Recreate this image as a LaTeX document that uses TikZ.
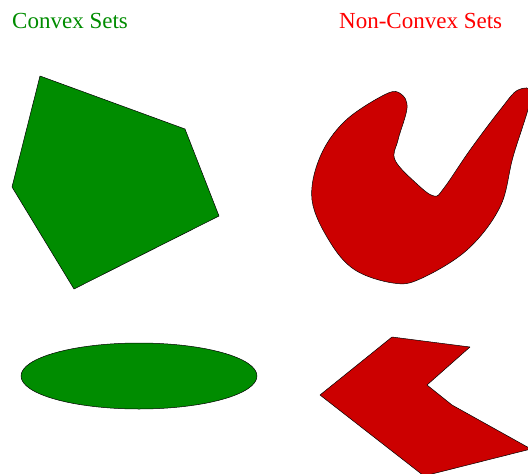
\documentclass[tikz,border=0pt]{standalone}
\usepackage{fontspec}
\setmainfont{Liberation Serif}
\usepackage{xcolor}
\definecolor{cvxgreen}{RGB}{0,140,0}
\definecolor{ncvred}{RGB}{204,0,0}
\definecolor{ncvtitle}{RGB}{255,0,0}

\begin{document}
\begin{tikzpicture}[
  x=1pt, y=-1pt,
  title/.style={anchor=base west, inner sep=0pt, font=\fontsize{23}{27}\selectfont},
  cvx/.style={fill=cvxgreen, draw=black, line width=0.5pt, line join=round},
  ncv/.style={fill=ncvred, draw=black, line width=0.5pt, line join=round}]
\useasboundingbox (0,0) rectangle (528,474);
\clip (0,0) rectangle (528,474);
% headings
\node[title, text=cvxgreen] (cvxtitle) at (12,28) {Convex Sets};
\node[title, text=ncvtitle] (ncvtitle) at (339,28) {Non-Convex Sets};
% convex: pentagon and ellipse
\draw[cvx] (40,76) -- (185,129) -- (219,216) -- (74,289) -- (12,187) -- cycle;
\draw[cvx] (139,376) ellipse [x radius=118, y radius=33];
% non-convex: blob and notched arrow
\draw[ncv] plot[smooth cycle, tension=0.6] coordinates {
  (386,94) (401,94) (407,108) (398,140) (395,160) (417,184) (434,196)
  (444,188) (470,150) (500,110) (518,90) (531,96) (513,157) (500,207)
  (467,250) (420,279) (393,283) (355,270) (330,242) (312,200) (320,157)
  (345,121)};
\draw[ncv] (392,337) -- (470,347) -- (427,385) -- (452,405) -- (531,449)
  -- (424,476) -- (320,395) -- cycle;
\end{tikzpicture}
\end{document}
